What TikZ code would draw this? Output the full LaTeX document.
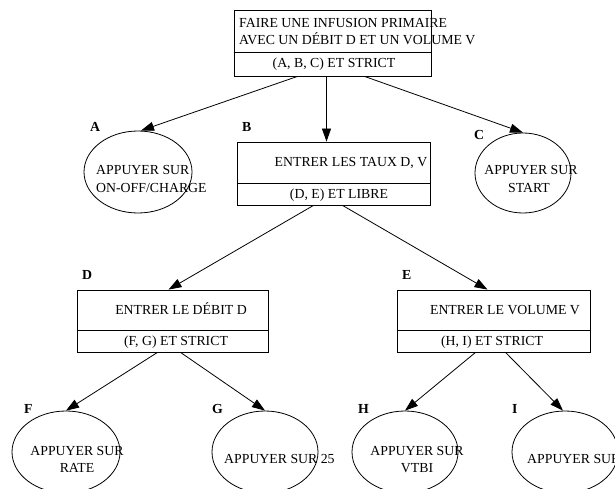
\documentclass[tikz,border=0pt]{standalone}
\usepackage{fontspec}
\setmainfont{Liberation Serif}
\usetikzlibrary{arrows.meta,shapes.geometric}

\tikzset{
  txt/.style={inner sep=0pt, font=\fontsize{13.8}{17}\selectfont},
  lbl/.style={inner sep=0pt, font=\fontsize{13.8}{17}\selectfont\bfseries},
  box/.style={draw, line width=0.8pt, inner sep=0pt},
  oval/.style={draw, ellipse, line width=0.8pt, inner sep=0pt},
  edge/.style={line width=0.8pt, -{Triangle[length=13pt,width=9pt]}}
}

\begin{document}
\begin{tikzpicture}[x=1pt, y=-1pt]
  \useasboundingbox (0, 0) rectangle (615, 489);

  % boxes
  \node[box, minimum width=197pt, minimum height=66pt] (infusion) at (332.5, 43) {};
  \draw[line width=0.8pt] ([yshift=-9pt]infusion.west) -- ([yshift=-9pt]infusion.east);
  \node[txt, anchor=base west] (infusionA) at (239, 27.5) {FAIRE UNE INFUSION PRIMAIRE};
  \node[txt, anchor=base west] (infusionB) at (239, 44.5) {AVEC UN DÉBIT D ET UN VOLUME V};
  \node[txt, anchor=base] (infusionC) at (334, 68) {(A, B, C) ET STRICT};

  \node[box, minimum width=193pt, minimum height=63pt] (taux) at (333.5, 173.5) {};
  \draw[line width=0.8pt] ([yshift=-9.5pt]taux.west) -- ([yshift=-9.5pt]taux.east);
  \node[txt, anchor=base] (tauxA) at (351, 166.5) {ENTRER LES TAUX D, V};
  \node[txt, anchor=base] (tauxB) at (339, 198.5) {(D, E) ET LIBRE};

  \node[box, minimum width=191pt, minimum height=62pt] (debit) at (172.5, 321) {};
  \draw[line width=0.8pt] ([yshift=-9pt]debit.west) -- ([yshift=-9pt]debit.east);
  \node[txt, anchor=base] (debitA) at (181, 314.5) {ENTRER LE DÉBIT D};
  \node[txt, anchor=base] (debitB) at (176, 345.5) {(F, G) ET STRICT};

  \node[box, minimum width=193pt, minimum height=62pt] (volume) at (493.5, 321) {};
  \draw[line width=0.8pt] ([yshift=-9pt]volume.west) -- ([yshift=-9pt]volume.east);
  \node[txt, anchor=base] (volumeA) at (505, 314.5) {ENTRER LE VOLUME V};
  \node[txt, anchor=base] (volumeB) at (492, 345.5) {(H, I) ET STRICT};

  % ellipses
  \node[oval, minimum width=108pt, minimum height=82pt] (onoff) at (138, 172) {};
  \node[txt, anchor=base west] (onoffA) at (96, 175) {APPUYER SUR};
  \node[txt, anchor=base west] (onoffB) at (96, 192) {ON-OFF/CHARGE};

  \node[oval, minimum width=96pt, minimum height=80pt] (start) at (523, 173) {};
  \node[txt, anchor=base] (startA) at (531, 175) {APPUYER SUR};
  \node[txt, anchor=base] (startB) at (529, 192) {START};

  \node[oval, minimum width=108pt, minimum height=82pt] (rate) at (66, 452) {};
  \node[txt, anchor=base] (rateA) at (77, 455) {APPUYER SUR};
  \node[txt, anchor=base] (rateB) at (77, 472) {RATE};

  \node[oval, minimum width=106pt, minimum height=82pt] (vingt) at (265, 452) {};
  \node[txt, anchor=base west] (vingtA) at (224, 463) {APPUYER SUR 25};

  \node[oval, minimum width=106pt, minimum height=82pt] (vtbi) at (405, 452) {};
  \node[txt, anchor=base] (vtbiA) at (417, 455) {APPUYER SUR};
  \node[txt, anchor=base] (vtbiB) at (417, 472) {VTBI};

  \node[oval, minimum width=106pt, minimum height=82pt] (autre) at (565, 452) {};
  \node[txt, anchor=base west] (autreA) at (527, 463) {APPUYER SUR};

  % labels
  \node[lbl, anchor=base west] (labA) at (90, 132) {A};
  \node[lbl, anchor=base west] (labB) at (242, 132) {B};
  \node[lbl, anchor=base west] (labC) at (474, 140) {C};
  \node[lbl, anchor=base west] (labD) at (82, 279) {D};
  \node[lbl, anchor=base west] (labE) at (402, 279) {E};
  \node[lbl, anchor=base west] (labF) at (24, 413) {F};
  \node[lbl, anchor=base west] (labG) at (212, 413) {G};
  \node[lbl, anchor=base west] (labH) at (358, 413) {H};
  \node[lbl, anchor=base west] (labI) at (512, 413) {I};

  % connectors
  \draw[edge] ([xshift=-35pt]infusion.south) -- ([xshift=3pt]onoff.north);
  \draw[edge] ([xshift=-6pt]infusion.south) -- ([xshift=-7pt]taux.north);
  \draw[edge] ([xshift=32pt]infusion.south) -- (start.north);

  \draw[edge] ([xshift=-20pt]taux.south) -- ([xshift=-4pt]debit.north);
  \draw[edge] ([xshift=9pt]taux.south) -- ([xshift=-6pt]volume.north);

  \draw[edge] ([xshift=-15pt]debit.south) -- (rate.north);
  \draw[edge] ([xshift=8pt]debit.south) -- (vingt.north);
  \draw[edge] ([xshift=-18pt]volume.south) -- (vtbi.north);
  \draw[edge] ([xshift=12pt]volume.south) -- ([xshift=-2pt]autre.north);
\end{tikzpicture}
\end{document}
